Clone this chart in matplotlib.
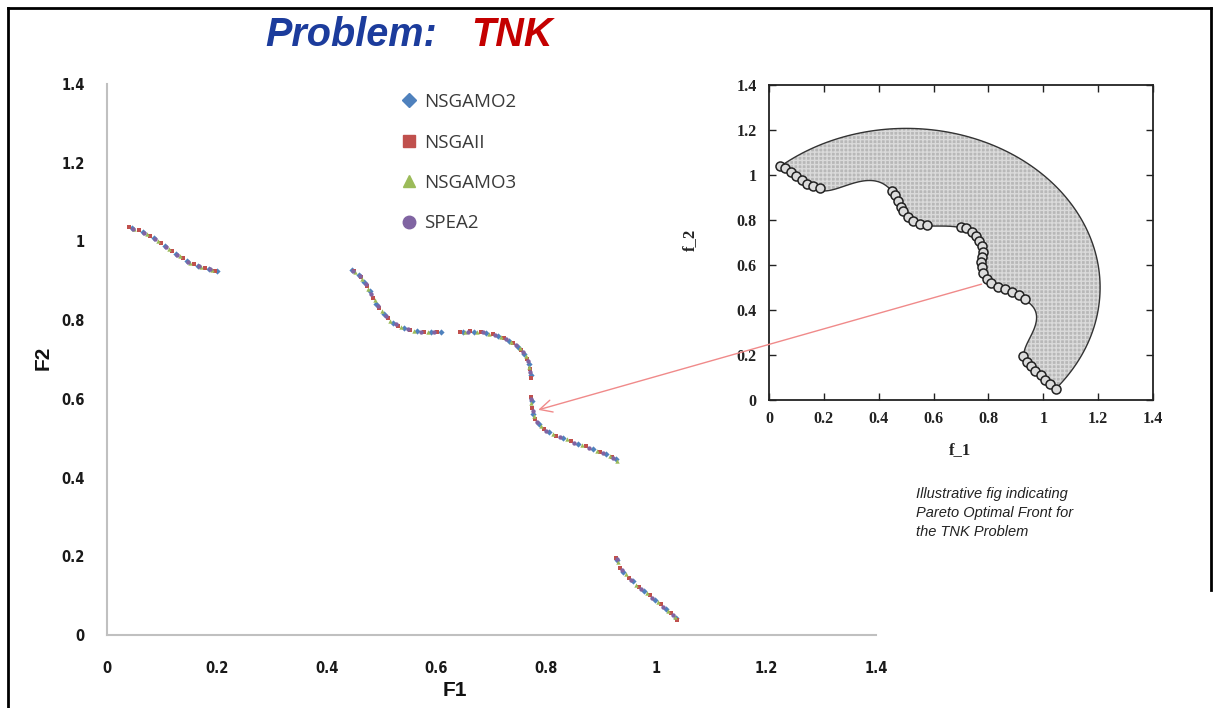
import numpy as np
import matplotlib
matplotlib.use("Agg")
import matplotlib.pyplot as plt
from matplotlib.lines import Line2D
from matplotlib.patches import Polygon, ConnectionPatch

# ---- Obtained Pareto fronts (F1, F2) for each algorithm ----
nsgamo2_f1 = [0.045, 0.065, 0.085, 0.105, 0.125, 0.145, 0.165, 0.185, 0.200,
              0.446, 0.458, 0.468, 0.478, 0.490, 0.504, 0.520, 0.540, 0.565, 0.590, 0.608,
              0.648, 0.668, 0.690, 0.712, 0.732, 0.748, 0.760, 0.768, 0.772,
              0.773, 0.776, 0.786, 0.805, 0.830, 0.858, 0.885, 0.908, 0.926,
              0.929, 0.940, 0.958, 0.978, 0.998, 1.018, 1.036]
nsgamo2_f2 = [1.034, 1.024, 1.009, 0.989, 0.968, 0.951, 0.938, 0.930, 0.925,
              0.927, 0.915, 0.898, 0.873, 0.842, 0.816, 0.794, 0.779, 0.772, 0.770, 0.770,
              0.770, 0.771, 0.768, 0.760, 0.748, 0.733, 0.714, 0.688, 0.660,
              0.595, 0.562, 0.536, 0.515, 0.500, 0.486, 0.472, 0.459, 0.447,
              0.190, 0.160, 0.136, 0.112, 0.090, 0.067, 0.042]

nsgaii_f1 = [0.040, 0.058, 0.078, 0.098, 0.118, 0.138, 0.158, 0.178, 0.196,
             0.450, 0.462, 0.473, 0.484, 0.496, 0.512, 0.530, 0.552, 0.578, 0.600,
             0.643, 0.660, 0.680, 0.702, 0.722, 0.740, 0.754, 0.764, 0.770, 0.772,
             0.772, 0.774, 0.780, 0.795, 0.818, 0.844, 0.872, 0.898, 0.920,
             0.927, 0.934, 0.950, 0.968, 0.988, 1.008, 1.026, 1.038]
nsgaii_f2 = [1.037, 1.028, 1.015, 0.996, 0.975, 0.957, 0.942, 0.932, 0.926,
             0.924, 0.909, 0.886, 0.857, 0.830, 0.805, 0.786, 0.775, 0.771, 0.770,
             0.770, 0.772, 0.770, 0.764, 0.754, 0.741, 0.724, 0.702, 0.675, 0.652,
             0.605, 0.578, 0.548, 0.524, 0.506, 0.493, 0.479, 0.465, 0.451,
             0.196, 0.170, 0.145, 0.123, 0.101, 0.078, 0.055, 0.038]

nsgamo3_f1 = [0.050, 0.072, 0.092, 0.112, 0.132, 0.152, 0.172, 0.192,
              0.452, 0.464, 0.476, 0.487, 0.500, 0.516, 0.535, 0.558, 0.584,
              0.652, 0.674, 0.696, 0.717, 0.736, 0.751, 0.762, 0.769,
              0.772, 0.777, 0.790, 0.812, 0.837, 0.864, 0.892, 0.915, 0.928,
              0.930, 0.944, 0.963, 0.983, 1.003, 1.022, 1.034]
nsgamo3_f2 = [1.031, 1.019, 1.002, 0.981, 0.962, 0.946, 0.935, 0.927,
              0.922, 0.905, 0.879, 0.850, 0.822, 0.799, 0.782, 0.773, 0.770,
              0.771, 0.771, 0.766, 0.757, 0.745, 0.729, 0.708, 0.681,
              0.590, 0.556, 0.530, 0.510, 0.497, 0.483, 0.468, 0.454, 0.442,
              0.185, 0.154, 0.128, 0.106, 0.084, 0.061, 0.045]

spea2_f1 = [0.048, 0.068, 0.088, 0.108, 0.128, 0.148, 0.168, 0.188,
            0.448, 0.460, 0.471, 0.481, 0.493, 0.508, 0.526, 0.548, 0.572, 0.596,
            0.658, 0.684, 0.707, 0.727, 0.744, 0.757, 0.766, 0.771,
            0.772, 0.775, 0.783, 0.800, 0.824, 0.851, 0.878, 0.903, 0.922,
            0.928, 0.937, 0.954, 0.973, 0.993, 1.013, 1.030]
spea2_f2 = [1.032, 1.022, 1.006, 0.986, 0.965, 0.949, 0.937, 0.929,
            0.926, 0.912, 0.892, 0.866, 0.836, 0.810, 0.789, 0.777, 0.771, 0.770,
            0.771, 0.769, 0.762, 0.751, 0.737, 0.719, 0.695, 0.667,
            0.600, 0.570, 0.541, 0.519, 0.503, 0.489, 0.476, 0.462, 0.450,
            0.193, 0.164, 0.140, 0.117, 0.095, 0.072, 0.050]

series_names = ["NSGAMO2", "NSGAII", "NSGAMO3", "SPEA2"]
series_colors = ["#4f81bd", "#c0504d", "#9bbb59", "#8064a2"]
series_markers = ["D", "s", "^", "o"]

# ---- Reference front shown in the illustrative panel ----
ref_f1 = [0.040, 0.060, 0.080, 0.100, 0.120, 0.140, 0.160, 0.185,
          0.450, 0.460, 0.470, 0.480, 0.490, 0.505, 0.525, 0.550, 0.575,
          0.700, 0.720, 0.740, 0.755, 0.765, 0.775, 0.780, 0.775, 0.772,
          0.775, 0.782, 0.795, 0.810, 0.835, 0.860, 0.885, 0.910, 0.935,
          0.925, 0.940, 0.955, 0.970, 0.990, 1.005, 1.025, 1.045]
ref_f2 = [1.040, 1.030, 1.015, 0.995, 0.978, 0.962, 0.950, 0.942,
          0.930, 0.910, 0.885, 0.860, 0.838, 0.815, 0.795, 0.782, 0.778,
          0.770, 0.765, 0.748, 0.728, 0.705, 0.685, 0.660, 0.635, 0.615,
          0.590, 0.565, 0.540, 0.520, 0.502, 0.492, 0.482, 0.468, 0.450,
          0.195, 0.170, 0.150, 0.130, 0.110, 0.090, 0.070, 0.050]

tick_vals = [0, 0.2, 0.4, 0.6, 0.8, 1.0, 1.2, 1.4]
tick_labels = ["0", "0.2", "0.4", "0.6", "0.8", "1", "1.2", "1.4"]

W, H = 1218, 708
fig = plt.figure(figsize=(W / 100, H / 100), dpi=100)
fig.patch.set_facecolor("white")


def fx(px):
    return px / W


def fy(py):
    return 1 - py / H


# ---- Main scatter axes ----
ax = fig.add_axes([fx(107), fy(635), fx(876) - fx(107), fy(84) - fy(635)])
ax.set_xlim(0, 1.4)
ax.set_ylim(0, 1.4)
for side in ("top", "right"):
    ax.spines[side].set_visible(False)
for side in ("left", "bottom"):
    ax.spines[side].set_color("#c0c0c0")
    ax.spines[side].set_linewidth(1.5)
ax.set_xticks(tick_vals)
ax.set_yticks(tick_vals)
tick_font = dict(family=["DejaVu Sans Condensed", "Liberation Sans Narrow", "DejaVu Sans"],
                 stretch="condensed", weight="bold", size=10.5)
ax.set_xticklabels(tick_labels, **tick_font)
ax.set_yticklabels(tick_labels, **tick_font)
ax.tick_params(axis="both", length=0, colors="#1a1a1a")
ax.tick_params(axis="x", pad=19)
ax.tick_params(axis="y", pad=16)

all_f1 = [nsgamo2_f1, nsgaii_f1, nsgamo3_f1, spea2_f1]
all_f2 = [nsgamo2_f2, nsgaii_f2, nsgamo3_f2, spea2_f2]
for f1, f2, c, m in zip(all_f1, all_f2, series_colors, series_markers):
    ax.scatter(f1, f2, s=10, marker=m, color=c, linewidths=0, zorder=3)

handles = [Line2D([], [], linestyle="none", marker=m, color=c, markersize=9 if m != "D" else 7)
           for c, m in zip(series_colors, series_markers)]
leg = ax.legend(handles, series_names, loc="upper left",
                frameon=False, handletextpad=0.3, handlelength=1.0,
                labelspacing=1.2, borderaxespad=0, borderpad=0,
                prop=dict(family=["Open Sans", "DejaVu Sans"], size=13.5))
leg.set_bbox_to_anchor((fx(400), fy(93)), transform=fig.transFigure)
for t in leg.get_texts():
    t.set_color("#3a3a3a")

fig.text(fx(455), fy(690), "F1", ha="center", va="center",
         family=["Liberation Sans", "DejaVu Sans"], weight="bold", size=15, color="#111111")
fig.text(fx(43), fy(358), "F2", ha="center", va="center", rotation=90,
         family=["Liberation Sans", "DejaVu Sans"], weight="bold", size=15, color="#111111")

# ---- Title ----
title_font = dict(family=["Liberation Sans", "DejaVu Sans"], weight="bold", style="italic", size=28.5)
fig.text(fx(265), fy(46), "Problem:", ha="left", va="baseline", color="#1c3c9c", **title_font)
fig.text(fx(471), fy(46), "TNK", ha="left", va="baseline", color="#c40000", **title_font)

# ---- Illustrative feasible-region panel ----
ins = fig.add_axes([fx(769), fy(400), fx(1153) - fx(769), fy(85) - fy(400)])
ins.set_xlim(0, 1.4)
ins.set_ylim(0, 1.4)

# TNK constraints: r >= sqrt(1 + 0.1 cos(16 phi)) and inside circle centred (0.5, 0.5)
phi = np.linspace(0, np.pi / 2, 2000)
r_in = np.sqrt(1 + 0.1 * np.cos(16 * phi))
r_out = np.cos(phi) + np.sin(phi)
idx = np.where(r_in <= r_out)[0]
ph = phi[idx[0]:idx[-1] + 1]
ri = np.minimum(np.sqrt(1 + 0.1 * np.cos(16 * ph)), np.cos(ph) + np.sin(ph))
ro = np.cos(ph) + np.sin(ph)
poly_x = np.concatenate([ri * np.cos(ph), (ro * np.cos(ph))[::-1]])
poly_y = np.concatenate([ri * np.sin(ph), (ro * np.sin(ph))[::-1]])
pts = np.column_stack([poly_x, poly_y])
ins.add_patch(Polygon(pts, closed=True, facecolor="#b8b8b8", edgecolor="#dadada",
                      hatch="++++", linewidth=0, zorder=1))
ins.add_patch(Polygon(pts, closed=True, facecolor="none", edgecolor="#333333",
                      linewidth=1.0, zorder=2))
ins.plot(ref_f1, ref_f2, linestyle="none", marker="o", markersize=6.5,
         markerfacecolor="#dcdcdc", markeredgecolor="#222222", markeredgewidth=1.1, zorder=3)

for s in ins.spines.values():
    s.set_color("#222222")
    s.set_linewidth(1.3)
ins.set_xticks(tick_vals)
ins.set_yticks(tick_vals)
serif_font = dict(family=["Liberation Serif", "DejaVu Serif"], weight="bold", size=11.5)
ins.set_xticklabels(tick_labels, **serif_font)
ins.set_yticklabels(tick_labels, **serif_font)
ins.tick_params(axis="both", direction="in", length=5, width=1.0,
                top=True, right=True, colors="#222222")
ins.tick_params(axis="x", pad=8)
ins.tick_params(axis="y", pad=9)
fig.text(fx(960), fy(450), "f_1", ha="center", va="center",
         family=["Liberation Serif", "DejaVu Serif"], weight="bold", size=12, color="#222222")
fig.text(fx(690), fy(240), "f_2", ha="center", va="center", rotation=90,
         family=["Liberation Serif", "DejaVu Serif"], weight="bold", size=12, color="#222222")

# Arrow linking the reference front to the obtained front
con = ConnectionPatch(xyA=(0.775, 0.515), coordsA=ins.transData,
                      xyB=(0.785, 0.572), coordsB=ax.transData,
                      arrowstyle="->", color="#f08a8a", linewidth=1.0,
                      mutation_scale=22, zorder=10)
fig.add_artist(con)

fig.text(fx(916), fy(487), "Illustrative fig indicating\nPareto Optimal Front for\nthe TNK Problem",
         ha="left", va="top", style="italic", linespacing=1.45,
         family=["Liberation Sans", "DejaVu Sans"], size=10.5, color="#222222")

# Outer frame
frame_kw = dict(color="black", linewidth=2.0, transform=fig.transFigure, clip_on=False)
fig.add_artist(Line2D([fx(8), fx(8)], [fy(8), 0], **frame_kw))
fig.add_artist(Line2D([fx(8), fx(1211)], [fy(8), fy(8)], **frame_kw))
fig.add_artist(Line2D([fx(1211), fx(1211)], [fy(8), fy(590)], **frame_kw))

fig.savefig("out.png", dpi=100, facecolor="white")
